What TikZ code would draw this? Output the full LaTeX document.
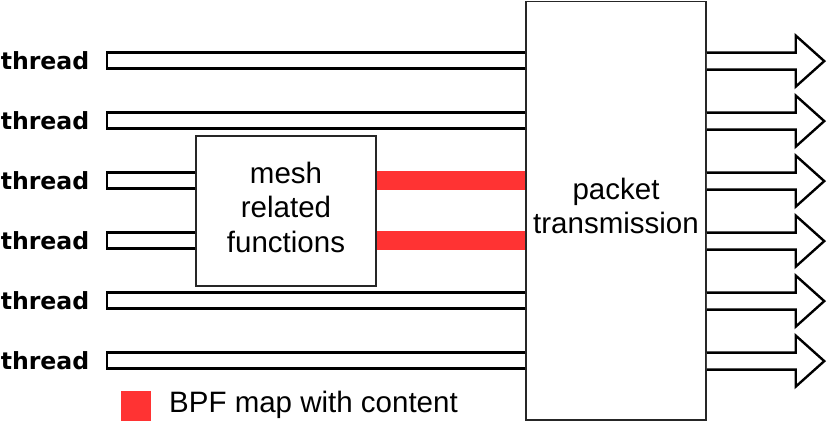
\documentclass[tikz,border=0pt]{standalone}
\usepackage{fontspec}
\setmainfont{Liberation Sans}
\newfontfamily\labelfont{DejaVu Sans}
\usetikzlibrary{calc}
\definecolor{mapred}{RGB}{255,51,51}
\tikzset{
  thr/.style={draw=black, line width=2.4pt, line join=miter},
  outarrow/.style={draw=black, line width=2.4pt, line join=miter, fill=white},
  boxstyle/.style={draw=black!85, line width=1.5pt, fill=white, inner sep=0pt},
  txt/.style={font=\fontsize{29.5}{34.5}\selectfont, align=center, inner sep=0pt},
  lbl/.style={font=\labelfont\bfseries\fontsize{23.6}{28}\selectfont, anchor=east, inner sep=0pt},
  redbar/.style={draw=mapred, line width=19pt},
}
\begin{document}
\begin{tikzpicture}[x=1pt,y=-1pt]
\useasboundingbox (0,0) rectangle (827,425);
% boxes
\node[boxstyle, minimum width=180pt, minimum height=418.5pt] (packet) at (616,210.75) {};
\node[txt] (ptext) at ($(packet.center)+(0,-5)$) {packet\\transmission};
\node[boxstyle, minimum width=180pt, minimum height=150pt] (mesh) at (286,211) {};
\node[txt] (mtext) at ($(mesh.center)+(0,-4)$) {mesh\\related\\functions};
% threads
\foreach \i/\y in {1/60.6,2/120.6,3/180.6,4/240.6,5/300.6,6/360.6}{
  \coordinate (a\i) at (107,\y);
  \node[lbl] (th\i) at (89.5,\y) {thread};
}
\foreach \i in {1,2,5,6}{
  \draw[thr] ($(packet.west |- a\i)+(0,-8)$) -- ($(a\i)+(0,-8)$) -- ($(a\i)+(0,8)$) -- ($(packet.west |- a\i)+(0,8)$);
}
\foreach \i in {3,4}{
  \draw[thr] ($(mesh.west |- a\i)+(0,-8)$) -- ($(a\i)+(0,-8)$) -- ($(a\i)+(0,8)$) -- ($(mesh.west |- a\i)+(0,8)$);
}
% red maps
\foreach \i in {3,4}{
  \draw[redbar] (mesh.east |- a\i) -- (packet.west |- a\i);
}
% output arrows
\foreach \i in {1,...,6}{
  \coordinate (b\i) at ($(packet.east |- a\i)+(0,0.5)$);
  \draw[outarrow] ($(b\i)+(0,-8.5)$) -- ($(b\i)+(89,-8.5)$) -- ($(b\i)+(89,-25.5)$) -- ($(b\i)+(117.5,0)$) -- ($(b\i)+(89,25.5)$) -- ($(b\i)+(89,8.5)$) -- ($(b\i)+(0,8.5)$);
}
% legend
\node[fill=mapred, minimum size=30pt, inner sep=0pt] (legsq) at (136,406) {};
\node[font=\fontsize{29.5}{34.5}\selectfont, anchor=base west, inner sep=0pt] (legtext) at (169,412.5) {BPF map with content};
\end{tikzpicture}
\end{document}
